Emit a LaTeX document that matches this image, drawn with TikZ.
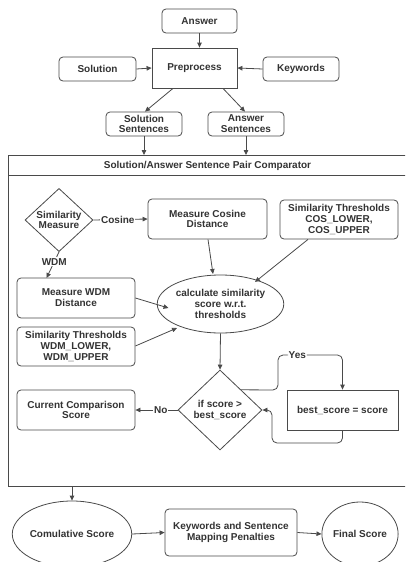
\documentclass[tikz,border=0pt]{standalone}
\usepackage{fontspec}
\setmainfont{Liberation Sans}
\usetikzlibrary{shapes.geometric,arrows.meta,calc}
\definecolor{ln}{HTML}{4A4A4A}
\definecolor{tx}{HTML}{333333}
\begin{document}
\begin{tikzpicture}[x=1pt,y=-1pt,
  every node/.style={font=\fontsize{10}{10.8}\selectfont\bfseries, text=tx, align=center, inner sep=0pt},
  rbox/.style={draw=ln, line width=0.8pt, rounded corners=4pt},
  sbox/.style={draw=ln, line width=0.8pt},
  dia/.style={draw=ln, line width=0.8pt, diamond, aspect=1},
  ell/.style={draw=ln, line width=0.8pt, ellipse},
  arr/.style={draw=ln, line width=0.8pt, -{Triangle[length=5pt,width=4.5pt]}},
  lab/.style={fill=white, inner sep=1pt}]
\useasboundingbox (0,0) rectangle (405,562);
\fill[white] (0,0) rectangle (405,562);
\clip (0,0) rectangle (405,562);

% top part
\node[rbox, minimum width=75pt, minimum height=24pt] (answer) at (199.5,21) {Answer};
\node[sbox, minimum width=85pt, minimum height=40pt] (pre) at (194.5,68) {Preprocess};
\node[rbox, minimum width=77pt, minimum height=24pt] (sol) at (97.5,69) {Solution};
\node[rbox, minimum width=76pt, minimum height=24pt] (kw) at (301,69) {Keywords};
\node[rbox, minimum width=76pt, minimum height=24pt] (solsent) at (144,124) {Solution\\Sentences};
\node[rbox, minimum width=76pt, minimum height=24pt] (anssent) at (246,124) {Answer\\Sentences};

% container
\node[sbox, anchor=north west, minimum width=400pt, minimum height=331pt] (cont) at (8,155) {};
\coordinate (dl) at (8,175);
\coordinate (dr) at (408,175);
\draw[ln, line width=0.8pt] (dl) -- (dr);
\node (title) at (207.5,165.5) {Solution/Answer Sentence Pair Comparator};

% inside
\node[dia, minimum width=68pt, minimum height=63pt] (simd) at (59,220) {Similarity\\Measure};
\node[rbox, minimum width=119pt, minimum height=40pt] (cos) at (207.5,219) {Measure Cosine\\Distance};
\node[rbox, minimum width=118pt, minimum height=39pt] (costh) at (339,219.5) {Similarity Thresholds\\COS\_LOWER,\\COS\_UPPER};
\node[rbox, minimum width=118pt, minimum height=40pt] (wdm) at (76,298) {Measure WDM\\Distance};
\node[rbox, minimum width=118pt, minimum height=39pt] (wdmth) at (76,346.5) {Similarity Thresholds\\WDM\_LOWER,\\WDM\_UPPER};
\node[ell, minimum width=103pt, minimum height=58pt] (calc) at (220.5,304) {calculate similarity\\score w.r.t.\\thresholds};
\node[dia, minimum width=84pt, minimum height=80pt] (ifd) at (220,410) {if score >\\best\_score};
\node[sbox, minimum width=111pt, minimum height=40pt] (best) at (342.5,410) {best\_score = score};
\node[rbox, minimum width=118pt, minimum height=40pt] (cur) at (76,410) {Current Comparison\\Score};

% bottom
\node[ell, minimum width=102pt, minimum height=66pt] (comul) at (72,534) {Comulative Score};
\node[rbox, minimum width=132pt, minimum height=47pt] (ksmp) at (231,532.5) {Keywords and Sentence\\Mapping Penalties};
\node[ell, minimum width=70pt, minimum height=64pt] (final) at (360,534) {Final Score};

% connectors top
\draw[arr] (answer.south) -- (pre.north -| answer.south);
\draw[arr] (sol.east) -- (pre.west);
\draw[arr] (kw.west) -- (pre.east);
\draw[arr] ($(pre.south)+(-21.5,0)$) -- ($(solsent.north)+(1,0)$);
\draw[arr] ($(pre.south)+(28.5,0)$) -- ($(anssent.north)+(-1,0)$);
\draw[arr] (solsent.south) -- (solsent.south |- cont.north);
\draw[arr] (anssent.south) -- (anssent.south |- cont.north);

% connectors inside
\draw[arr] (simd.east) -- node[lab, pos=0.45] {Cosine} (cos.west);
\coordinate (wdmtop) at (46.5,278);
\draw[arr] (simd.south) -- node[lab, pos=0.38] {WDM} (wdmtop);
\coordinate (c1) at (213,274);
\coordinate (c2) at (255,282);
\coordinate (c3) at (168.5,308);
\coordinate (c4) at (177,328);
\draw[arr] ($(cos.south)+(0.5,0)$) -- (c1);
\draw[arr] ($(costh.south)+(-31,0)$) -- (c2);
\draw[arr] (wdm.east) -- (c3);
\draw[arr] ($(wdmth.east)+(0,-0.5)$) -- (c4);
\draw[arr] (calc.south) -- (ifd.north);
\coordinate (y1) at (278,390);
\coordinate (y2) at (278,355);
\draw[arr, rounded corners=5pt] ($(ifd.north)!0.5!(ifd.east)$) -- (y1) -- (y2) -- node[lab, pos=0.3] {Yes} (best.north |- y2) -- (best.north);
\coordinate (r1) at (272,443);
\draw[arr, rounded corners=5pt] (best.south) -- (best.south |- r1) -- (r1) -- (r1 |- ifd.east) -- (ifd.east);
\draw[arr] (ifd.west) -- node[lab, pos=0.4] {No} (cur.east);

% connectors bottom
\draw[arr] (comul.north |- cont.south) -- (comul.north);
\draw[arr] (comul.east) -- (ksmp.west);
\draw[arr] (ksmp.east) -- (final.west);
\end{tikzpicture}
\end{document}
